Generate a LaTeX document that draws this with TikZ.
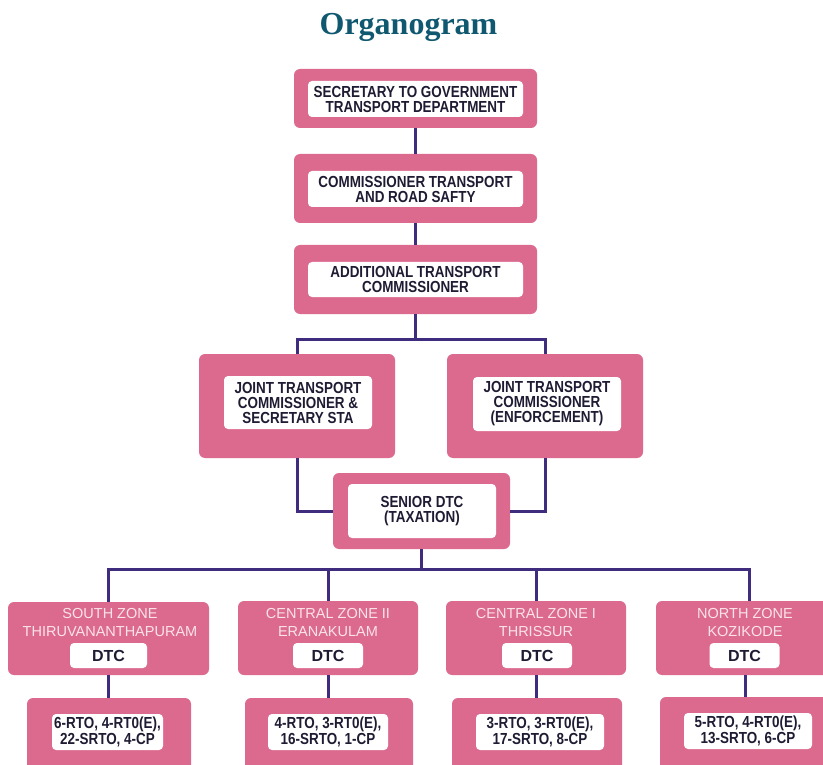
\documentclass[tikz,border=0pt]{standalone}
\usepackage{fontspec}
\setmainfont{Liberation Sans}
\newfontfamily\cardfont[FakeStretch=0.84]{Liberation Sans}
\newfontfamily\titlefont{Liberation Serif}
\definecolor{rosebox}{HTML}{DC6A8E}
\definecolor{wireviolet}{HTML}{3F2C7E}
\definecolor{inkdark}{HTML}{1E1B33}
\definecolor{titleteal}{HTML}{0F5870}
\definecolor{zonetext}{HTML}{FBE3EA}

\begin{document}
\begin{tikzpicture}[x=1pt, y=-1pt,
	plate/.style={fill=rosebox, rounded corners=6pt, inner sep=0pt},
	card/.style={fill=white, rounded corners=4pt, inner sep=0pt, align=center, text=inkdark, font=\cardfont\bfseries\fontsize{16}{15}\selectfont},
	tally/.style={card, font=\cardfont\bfseries\fontsize{16}{14}\selectfont},
	dtctag/.style={card, font=\bfseries\fontsize{16}{16}\selectfont},
	zonetitle/.style={align=center, text=zonetext, inner sep=0pt, font=\fontsize{14.5}{18}\selectfont},
	wire/.style={draw=wireviolet, line width=3pt}]
	\useasboundingbox (0,0) rectangle (823,765);

	\node[anchor=base, text=titleteal, font=\titlefont\bfseries\fontsize{32}{36}\selectfont] (title) at (408.5,35) {Organogram};

	\node[plate, minimum width=243pt, minimum height=59pt] (sec) at (415.5,98.5) {};
	\node[card, minimum width=215pt, minimum height=36pt] (secT) at (415.5,99) {SECRETARY TO GOVERNMENT\\TRANSPORT DEPARTMENT};
	\node[plate, minimum width=243pt, minimum height=69pt] (ctr) at (415.5,188.5) {};
	\node[card, minimum width=215pt, minimum height=36pt] (ctrT) at (415.5,189) {COMMISSIONER TRANSPORT\\AND ROAD SAFTY};
	\node[plate, minimum width=243pt, minimum height=69pt] (atc) at (415.5,279.5) {};
	\node[card, minimum width=215pt, minimum height=35pt] (atcT) at (415.5,279.5) {ADDITIONAL TRANSPORT\\COMMISSIONER};

	\node[plate, minimum width=196pt, minimum height=104pt] (jtcl) at (297,406) {};
	\node[card, minimum width=148pt, minimum height=53pt] (jtclT) at (298,402.5) {JOINT TRANSPORT\\COMMISSIONER \&\\SECRETARY STA};
	\node[plate, minimum width=196pt, minimum height=104pt] (jtcr) at (545,406) {};
	\node[card, minimum width=148pt, minimum height=54pt] (jtcrT) at (547,404) {JOINT TRANSPORT\\COMMISSIONER\\(ENFORCEMENT)};
	\node[plate, minimum width=177pt, minimum height=76pt] (sdtc) at (421.5,511) {};
	\node[card, minimum width=148pt, minimum height=54pt] (sdtcT) at (422,511) {SENIOR DTC\\(TAXATION)};

	\node[plate, minimum width=201pt, minimum height=73pt] (zsouth) at (108.5,638.5) {};
	\node[zonetitle] (zsouthT) at (110,623) {SOUTH ZONE\\THIRUVANANTHAPURAM};
	\node[dtctag, minimum width=77pt, minimum height=25pt] (zsouthD) at (108.5,655.5) {DTC};
	\node[plate, minimum width=180pt, minimum height=74pt] (zcentwo) at (328,638) {};
	\node[zonetitle] (zcentwoT) at (328,623) {CENTRAL ZONE II\\ERANAKULAM};
	\node[dtctag, minimum width=70pt, minimum height=25pt] (zcentwoD) at (328,655.5) {DTC};
	\node[plate, minimum width=180pt, minimum height=74pt] (zcenone) at (536,638) {};
	\node[zonetitle] (zcenoneT) at (536,623) {CENTRAL ZONE I\\THRISSUR};
	\node[dtctag, minimum width=70pt, minimum height=25pt] (zcenoneD) at (537,655.5) {DTC};
	\node[plate, minimum width=186pt, minimum height=74pt] (znorth) at (749,638) {};
	\node[zonetitle] (znorthT) at (745,623) {NORTH ZONE\\KOZIKODE};
	\node[dtctag, minimum width=70pt, minimum height=25pt] (znorthD) at (744.5,655.5) {DTC};

	\node[plate, minimum width=164pt, minimum height=90pt] (bsouth) at (109,743) {};
	\node[tally, minimum width=111pt, minimum height=36pt] (bsouthT) at (107.5,732) {6-RTO, 4-RT0(E),\\22-SRTO, 4-CP};
	\node[plate, minimum width=168pt, minimum height=90pt] (bcentwo) at (329,743) {};
	\node[tally, minimum width=120pt, minimum height=36pt] (bcentwoT) at (328,732) {4-RTO, 3-RT0(E),\\16-SRTO, 1-CP};
	\node[plate, minimum width=170pt, minimum height=90pt] (bcenone) at (537,743) {};
	\node[tally, minimum width=128pt, minimum height=36pt] (bcenoneT) at (540,732) {3-RTO, 3-RT0(E),\\17-SRTO, 8-CP};
	\node[plate, minimum width=170pt, minimum height=90pt] (bnorth) at (745,742) {};
	\node[tally, minimum width=128pt, minimum height=36pt] (bnorthT) at (748,731) {5-RTO, 4-RT0(E),\\13-SRTO, 6-CP};

	\coordinate (fork) at (415.5,339);
	\coordinate (zfork) at (421.5,569);
	\draw[wire] (sec) -- (ctr);
	\draw[wire] (ctr) -- (atc);
	\draw[wire] (atc) -- (fork);
	\draw[wire] (fork) -| (jtcl.north);
	\draw[wire] (fork) -| (jtcr.north);
	\draw[wire] (jtcl.south) |- (sdtc.west);
	\draw[wire] (jtcr.south) |- (sdtc.east);
	\draw[wire] (sdtc.south) -- (zfork);
	\draw[wire] (zfork) -| (zsouth.north);
	\draw[wire] (zfork) -| (zcentwo.north);
	\draw[wire] (zfork) -| (zcenone.north);
	\draw[wire] (zfork) -| (znorth.north);
	\draw[wire] (zsouth.south) -- (zsouth.south |- bsouth.north);
	\draw[wire] (zcentwo.south) -- (zcentwo.south |- bcentwo.north);
	\draw[wire] (zcenone.south) -- (zcenone.south |- bcenone.north);
	\draw[wire] (znorth.south -| bnorth.north) -- (bnorth.north);
\end{tikzpicture}
\end{document}
